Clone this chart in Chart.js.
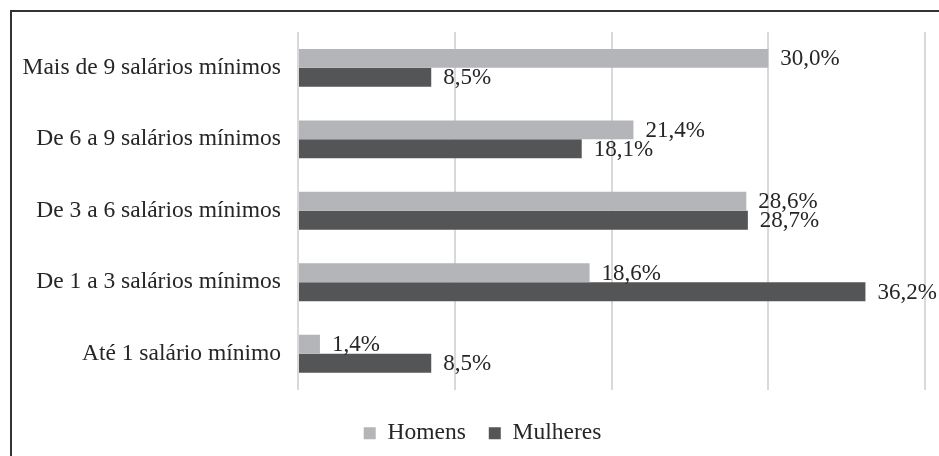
<!DOCTYPE html>
<html>
<head>
<meta charset="utf-8">
<script src="https://cdn.jsdelivr.net/npm/chart.js@4.4.1/dist/chart.umd.min.js"></script>
<style>
  html, body { margin: 0; padding: 0; background: #fff; overflow: hidden; }
  #frame {
    position: absolute; left: 10px; top: 10px;
    width: 940px; height: 460px;
    border: 2px solid #333; box-sizing: border-box;
  }
  #wrap { position: absolute; left: 0; top: -11px; width: 927px; height: 458px; }
</style>
</head>
<body>
<div id="frame">
  <div id="wrap"><canvas id="chart"></canvas></div>
</div>
<script>
// categories top to bottom
const categories = [
  'Mais de 9 salários mínimos',
  'De 6 a 9 salários mínimos',
  'De 3 a 6 salários mínimos',
  'De 1 a 3 salários mínimos',
  'Até 1 salário mínimo'
];
const homens = [30.0, 21.4, 28.6, 18.6, 1.4];
const mulheres = [8.5, 18.1, 28.7, 36.2, 8.5];
const seriesNames = ['Homens', 'Mulheres'];
const xTicks = [0, 10, 20, 30, 40];

const serif = '"Liberation Serif", "Times New Roman", serif';

// draws the value labels at the end of each bar
const barLabels = {
  id: 'barLabels',
  afterDatasetsDraw(chart) {
    const ctx = chart.ctx;
    ctx.save();
    ctx.font = '23px ' + serif;
    ctx.fillStyle = '#262626';
    ctx.textBaseline = 'middle';
    ctx.textAlign = 'left';
    chart.data.datasets.forEach((ds, i) => {
      chart.getDatasetMeta(i).data.forEach((bar, j) => {
        const txt = ds.data[j].toFixed(1).replace('.', ',') + '%';
        ctx.fillText(txt, bar.x + 12, bar.y + 1);
      });
    });
    ctx.restore();
  }
};

// nudge the legend a bit to the right, as in the original
const legendShift = {
  id: 'legendShift',
  afterLayout(chart) {
    chart.legend.left += 14;
    chart.legend.right += 14;
  }
};

const ctx = document.getElementById('chart').getContext('2d');
const chart = new Chart(ctx, {
  type: 'bar',
  data: {
    labels: categories,
    datasets: [
      {
        label: seriesNames[0],
        data: homens,
        backgroundColor: '#b4b5b8',
        categoryPercentage: 0.53,
        barPercentage: 1.0
      },
      {
        label: seriesNames[1],
        data: mulheres,
        backgroundColor: '#545557',
        categoryPercentage: 0.53,
        barPercentage: 1.0
      }
    ]
  },
  options: {
    indexAxis: 'y',
    responsive: true,
    maintainAspectRatio: false,
    animation: false,
    layout: { padding: { top: 9, right: 14, bottom: 4, left: 0 } },
    scales: {
      x: {
        min: 0,
        max: 40,
        afterBuildTicks: axis => { axis.ticks = xTicks.map(v => ({ value: v })); },
        afterFit: axis => { axis.height = 9; },
        ticks: { display: false },
        border: { display: false },
        grid: { color: '#d9d9d9', lineWidth: 2, drawTicks: false }
      },
      y: {
        border: { display: false },
        grid: { display: false, drawTicks: false },
        afterFit: axis => { axis.width = 286; },
        ticks: {
          color: '#262626',
          padding: 17,
          font: { family: serif, size: 23.5 }
        }
      }
    },
    plugins: {
      legend: {
        position: 'bottom',
        labels: {
          color: '#262626',
          boxWidth: 12,
          boxHeight: 12,
          padding: 23,
          font: { family: serif, size: 23.5 }
        }
      },
      tooltip: { enabled: false }
    }
  },
  plugins: [barLabels, legendShift]
});
</script>
</body>
</html>
